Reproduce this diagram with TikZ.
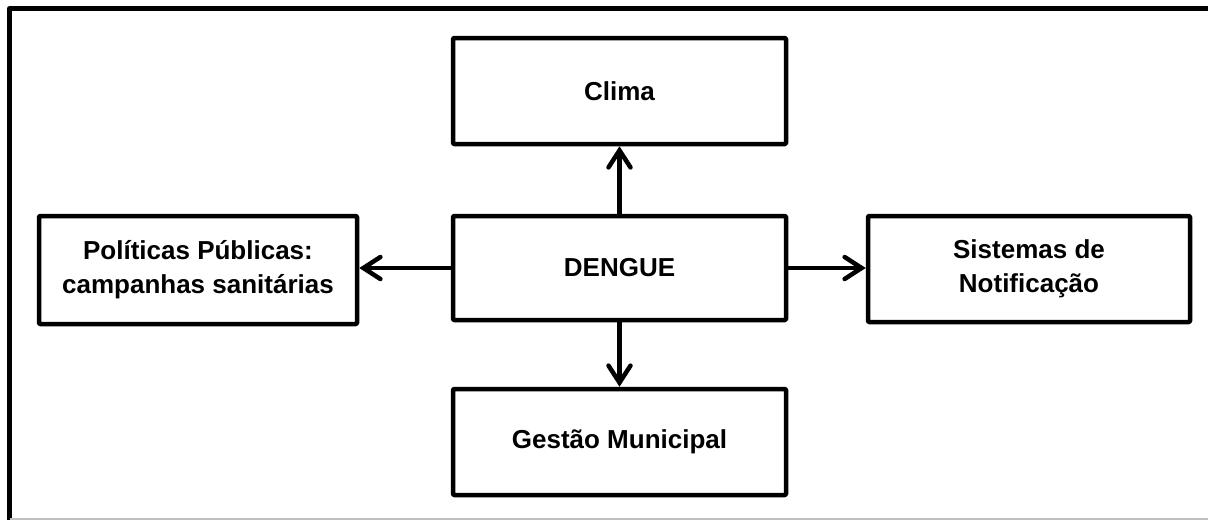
\documentclass[tikz,border=0pt]{standalone}
\usepackage{fontspec}
\setmainfont{Liberation Sans}
\usetikzlibrary{arrows.meta}

\begin{document}
\begin{tikzpicture}[
  x=1pt,y=-1pt,
  >={Straight Barb[length=17pt,width=22pt,line cap=round]},
  line join=round,
  box/.style={draw,line width=4.5pt,rounded corners=1pt,align=center,
    font=\fontsize{26}{34}\selectfont\bfseries,inner sep=0pt},
  link/.style={->,line width=4.5pt},
  frame/.style={line width=5pt}
]
\useasboundingbox (0,0) rectangle (1208,520);

% ------------------------------------------------------------------
% Outer frame
% ------------------------------------------------------------------
\draw[frame] (1208,8.5) -- (9.5,8.5) -- (9.5,520);
\draw[black!25,line width=1.5pt] (9.5,519) -- (1208,519);

% ------------------------------------------------------------------
% Boxes
% ------------------------------------------------------------------
\node[box,minimum width=333pt,minimum height=104pt] (dengue) at (619.5,268) {DENGUE};
\node[box,minimum width=333pt,minimum height=106pt] (clima) at (619.5,91) {Clima};
\node[box,minimum width=333pt,minimum height=106pt] (gestao) at (619.5,442) {Gestão Municipal};
\node[box,minimum width=318pt,minimum height=108pt] (politicas) at (198,270)
  {Políticas Públicas:\\campanhas sanitárias};
\node[box,minimum width=322pt,minimum height=106pt] (sistemas) at (1029,269)
  {Sistemas de\\Notificação};

% ------------------------------------------------------------------
% Links
% ------------------------------------------------------------------
\draw[link] (dengue.north) -- (clima.south);
\draw[link] (dengue.south) -- (gestao.north);
\draw[link] (dengue.west) -- (dengue.west -| politicas.east);
\draw[link] (dengue.east) -- (dengue.east -| sistemas.west);

\end{tikzpicture}
\end{document}
